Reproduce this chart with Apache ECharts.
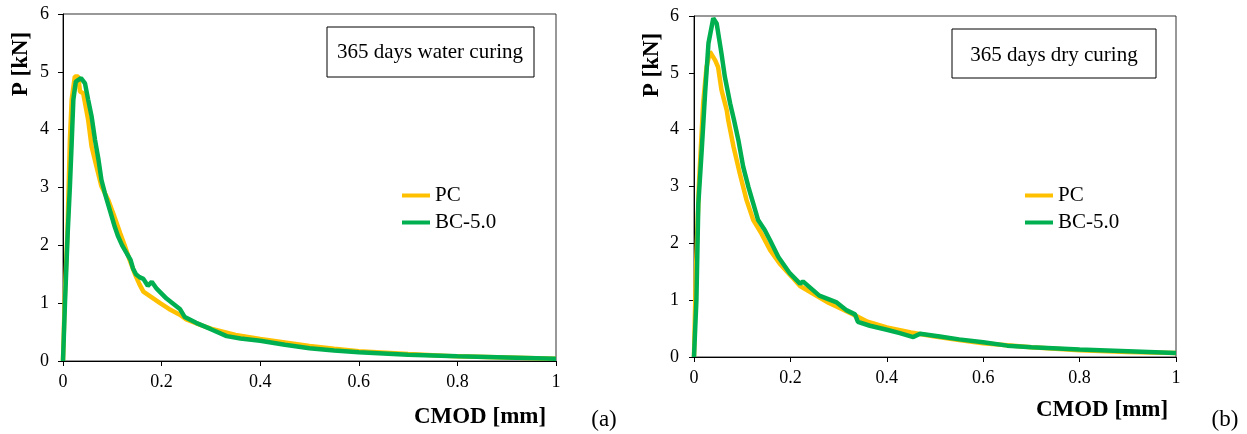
<!DOCTYPE html>
<html>
<head>
<meta charset="utf-8">
<script src="https://cdn.jsdelivr.net/npm/echarts@6/dist/echarts.min.js"></script>
<style>html,body{margin:0;padding:0;background:#fff}#c{width:1247px;height:434px}</style>
</head>
<body>
<div id="c"></div>
<script>
// ---- Data (CMOD [mm] vs P [kN]) ----
const seriesNames = ['PC', 'BC-5.0'];
const panelTitles = ['365 days water curing', '365 days dry curing'];
const panelTags = ['(a)', '(b)'];
const xTickLabels = ['0', '0.2', '0.4', '0.6', '0.8', '1'];
const yTickLabels = ['0', '1', '2', '3', '4', '5', '6'];

// (a) water curing - PC
const waterPcX = [0, 0.004, 0.009, 0.014, 0.0176, 0.024, 0.031, 0.0345, 0.041, 0.051, 0.058, 0.068, 0.078, 0.092, 0.102, 0.116, 0.125, 0.135, 0.146, 0.155, 0.163, 0.18, 0.197, 0.215, 0.237, 0.25, 0.28, 0.3, 0.35, 0.4, 0.45, 0.5, 0.55, 0.6, 0.7, 0.8, 0.9, 1.0];
const waterPcY = [0, 1.2, 2.2, 3.82, 4.52, 4.92, 4.92, 4.66, 4.63, 4.17, 3.71, 3.36, 3.02, 2.78, 2.55, 2.21, 2.0, 1.75, 1.5, 1.33, 1.2, 1.1, 1.0, 0.9, 0.8, 0.72, 0.62, 0.56, 0.45, 0.38, 0.32, 0.26, 0.21, 0.17, 0.12, 0.08, 0.06, 0.04];
// (a) water curing - BC-5.0
const waterBcX = [0, 0.004, 0.0095, 0.014, 0.0176, 0.021, 0.026, 0.0365, 0.0446, 0.051, 0.058, 0.065, 0.072, 0.078, 0.085, 0.095, 0.105, 0.112, 0.12, 0.13, 0.137, 0.142, 0.148, 0.155, 0.163, 0.172, 0.18, 0.19, 0.21, 0.237, 0.247, 0.27, 0.3, 0.332, 0.36, 0.4, 0.45, 0.5, 0.55, 0.6, 0.7, 0.8, 0.9, 1.0];
const waterBcY = [0, 1.0, 2.21, 3.02, 3.77, 4.52, 4.83, 4.89, 4.8, 4.52, 4.23, 3.82, 3.48, 3.13, 2.9, 2.61, 2.32, 2.15, 2.0, 1.85, 1.75, 1.6, 1.5, 1.45, 1.42, 1.3, 1.37, 1.25, 1.08, 0.9, 0.76, 0.66, 0.55, 0.43, 0.39, 0.35, 0.28, 0.22, 0.18, 0.15, 0.11, 0.08, 0.06, 0.04];

// (b) dry curing - PC
const dryPcX = [0, 0.004, 0.01, 0.019, 0.026, 0.033, 0.044, 0.05, 0.057, 0.068, 0.071, 0.082, 0.095, 0.109, 0.123, 0.14, 0.158, 0.178, 0.203, 0.22, 0.25, 0.28, 0.3, 0.33, 0.36, 0.4, 0.45, 0.5, 0.55, 0.6, 0.7, 0.8, 0.9, 1.0];
const dryPcY = [0, 1.5, 3.0, 4.46, 5.1, 5.37, 5.22, 5.1, 4.7, 4.34, 4.17, 3.7, 3.23, 2.76, 2.41, 2.17, 1.88, 1.64, 1.41, 1.25, 1.1, 0.95, 0.87, 0.75, 0.62, 0.52, 0.43, 0.36, 0.3, 0.24, 0.17, 0.12, 0.09, 0.07];
// (b) dry curing - BC-5.0
const dryBcX = [0, 0.005, 0.009, 0.016, 0.023, 0.03, 0.04, 0.047, 0.057, 0.064, 0.075, 0.083, 0.092, 0.102, 0.113, 0.123, 0.133, 0.147, 0.158, 0.175, 0.199, 0.22, 0.226, 0.26, 0.296, 0.317, 0.334, 0.34, 0.365, 0.4, 0.427, 0.455, 0.469, 0.51, 0.55, 0.6, 0.65, 0.7, 0.8, 0.9, 1.0];
const dryBcY = [0, 1.0, 2.7, 3.64, 4.64, 5.52, 5.96, 5.87, 5.34, 4.93, 4.46, 4.17, 3.82, 3.35, 2.99, 2.7, 2.41, 2.23, 2.05, 1.76, 1.47, 1.29, 1.33, 1.08, 0.96, 0.82, 0.75, 0.62, 0.55, 0.48, 0.42, 0.35, 0.41, 0.36, 0.31, 0.26, 0.2, 0.17, 0.13, 0.1, 0.07];

// ---- Build ----
const FONT = "'Liberation Serif','Times New Roman',serif";
const COLORS = ['#FFC000', '#00B050'];
const zip = (xs, ys) => xs.map((x, i) => [x, ys[i]]);

const grids = [
  {left: 63, top: 14, width: 493, height: 347},
  {left: 694, top: 16, width: 482, height: 341}
];

function xAxisFor(i) {
  return {
    type: 'value', gridIndex: i, min: 0, max: 1, interval: 0.2,
    splitLine: {show: false},
    axisLine: {lineStyle: {color: '#000', width: 1}},
    axisTick: {length: 5, lineStyle: {color: '#000'}},
    axisLabel: {margin: 12, fontFamily: FONT, fontSize: 18, color: '#000',
      formatter: v => xTickLabels[Math.round(v / 0.2)]}
  };
}
function yAxisFor(i, m) {
  return {
    type: 'value', gridIndex: i, min: 0, max: 6, interval: 1,
    splitLine: {show: false},
    axisLine: {show: true, lineStyle: {color: '#000', width: 1}},
    axisTick: {show: true, length: 5, lineStyle: {color: '#000'}},
    axisLabel: {margin: m, fontFamily: FONT, fontSize: 18, color: '#000',
      formatter: v => yTickLabels[Math.round(v)]}
  };
}
function line(name, data, gi, color) {
  return {
    name, type: 'line', xAxisIndex: gi, yAxisIndex: gi, data,
    showSymbol: false, symbol: 'none', lineStyle: {color, width: 4.5}, itemStyle: {color},
    animation: false
  };
}
function legendFor(left) {
  return {
    left, top: 180, orient: 'vertical', icon: 'rect', itemWidth: 28, itemHeight: 4, itemGap: 6,
    textStyle: {fontFamily: FONT, fontSize: 21, color: '#000'}, data: seriesNames
  };
}
function txt(x, y, text, opts) {
  return Object.assign({type: 'text', x, y, style: Object.assign({text, fill: '#000', font: '21px ' + FONT, textAlign: 'center', textVerticalAlign: 'middle'}, opts || {})});
}

const option = {
  animation: false,
  grid: grids.map(g => Object.assign({show: true, borderColor: '#333', borderWidth: 1, backgroundColor: '#fff'}, g)),
  xAxis: [xAxisFor(0), xAxisFor(1)],
  yAxis: [yAxisFor(0, 14), yAxisFor(1, 15)],
  legend: [legendFor(397), legendFor(1020)],
  series: [
    line(seriesNames[0], zip(waterPcX, waterPcY), 0, COLORS[0]),
    line(seriesNames[1], zip(waterBcX, waterBcY), 0, COLORS[1]),
    line(seriesNames[0], zip(dryPcX, dryPcY), 1, COLORS[0]),
    line(seriesNames[1], zip(dryBcX, dryBcY), 1, COLORS[1])
  ],
  graphic: [
    {type: 'rect', shape: {x: 327, y: 27, width: 207, height: 50}, style: {fill: '#fff', stroke: '#000', lineWidth: 1}, z: 10},
    {type: 'rect', shape: {x: 952, y: 29, width: 204, height: 49}, style: {fill: '#fff', stroke: '#000', lineWidth: 1}, z: 10},
    Object.assign(txt(430, 52, panelTitles[0]), {z: 11}),
    Object.assign(txt(1054, 55, panelTitles[1]), {z: 11}),
    {type: 'text', x: 21, y: 64, rotation: Math.PI / 2, style: {text: 'P [kN]', font: 'bold 23px ' + FONT, fill: '#000', textAlign: 'center', textVerticalAlign: 'middle'}},
    {type: 'text', x: 652, y: 65, rotation: Math.PI / 2, style: {text: 'P [kN]', font: 'bold 23px ' + FONT, fill: '#000', textAlign: 'center', textVerticalAlign: 'middle'}},
    txt(480, 417, 'CMOD [mm]', {font: 'bold 23px ' + FONT}),
    txt(1102, 410, 'CMOD [mm]', {font: 'bold 23px ' + FONT}),
    txt(604, 420, panelTags[0], {font: '23px ' + FONT}),
    txt(1225, 420, panelTags[1], {font: '23px ' + FONT})
  ]
};
const chart = echarts.init(document.getElementById('c'), null, {renderer: 'canvas'});
chart.setOption(option);
</script>
</body>
</html>
